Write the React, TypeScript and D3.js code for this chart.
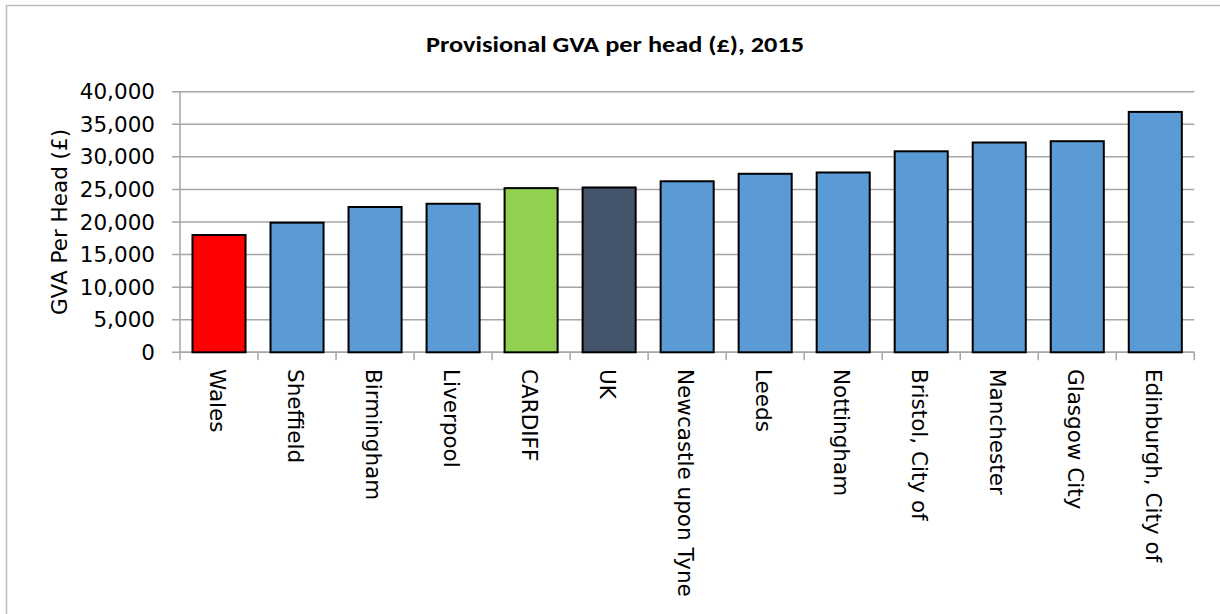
import React from "react";
import * as d3 from "d3";

const categories = [
  "Wales",
  "Sheffield",
  "Birmingham",
  "Liverpool",
  "CARDIFF",
  "UK",
  "Newcastle upon Tyne",
  "Leeds",
  "Nottingham",
  "Bristol, City of",
  "Manchester",
  "Glasgow City",
  "Edinburgh, City of",
];
const values = [18000, 19900, 22300, 22800, 25200, 25300, 26250, 27400, 27600, 30850, 32200, 32400, 36900];
const barColors = [
  "#FF0000",
  "#5B9BD5",
  "#5B9BD5",
  "#5B9BD5",
  "#92D050",
  "#44546A",
  "#5B9BD5",
  "#5B9BD5",
  "#5B9BD5",
  "#5B9BD5",
  "#5B9BD5",
  "#5B9BD5",
  "#5B9BD5",
];
const yTicks = [0, 5000, 10000, 15000, 20000, 25000, 30000, 35000, 40000];
const title = "Provisional GVA per head (£), 2015";
const yTitle = "GVA Per Head (£)";

export default function App() {
  const W = 1220;
  const H = 614;
  const left = 180;
  const right = 1194.3;
  const top = 91.7;
  const bottom = 352.3;

  const x = d3
    .scaleBand<string>()
    .domain(categories)
    .range([left, right])
    .paddingInner(0.32)
    .paddingOuter(0.16);
  const y = d3.scaleLinear().domain([0, 40000]).range([bottom, top]);
  const fmt = d3.format(",");
  const step = (right - left) / categories.length;
  const font = "'DejaVu Sans', 'Open Sans', sans-serif";
  const fs = 21.5;

  return (
    <svg
      width={W}
      height={H}
      style={{ position: "absolute", left: 0, top: 0, background: "#fff" }}
    >
      <rect x={0} y={0} width={W} height={H} fill="#fff" />
      <rect
        x={6.5}
        y={5.5}
        width={W + 20}
        height={H + 20}
        fill="none"
        stroke="#BDBDBD"
        strokeWidth={1.5}
      />
      <text
        transform="translate(615,52) scale(1.17,1)"
        textAnchor="middle"
        fontFamily="Carlito, 'Open Sans', sans-serif"
        fontWeight="bold"
        fontSize={22.5}
        fill="#000"
      >
        {title}
      </text>

      {/* gridlines */}
      {yTicks.map((t) => (
        <line
          key={"g" + t}
          x1={172}
          x2={right}
          y1={y(t)}
          y2={y(t)}
          stroke="#A6A6A6"
          strokeWidth={1.5}
        />
      ))}
      {/* y tick labels */}
      {yTicks.map((t) => (
        <text
          key={"t" + t}
          x={155}
          y={y(t)}
          textAnchor="end"
          dominantBaseline="central"
          fontFamily={font}
          fontSize={fs}
          fill="#000"
        >
          {fmt(t)}
        </text>
      ))}
      <text
        transform={`translate(59,222) rotate(-90)`}
        textAnchor="middle"
        dominantBaseline="central"
        fontFamily={font}
        fontSize={fs}
        fill="#000"
      >
        {yTitle}
      </text>

      {/* axes */}
      <line x1={left} x2={left} y1={top} y2={bottom} stroke="#A6A6A6" strokeWidth={1.5} />
      <line x1={left} x2={right} y1={bottom} y2={bottom} stroke="#A6A6A6" strokeWidth={1.5} />
      {d3.range(categories.length + 1).map((i) => (
        <line
          key={"xt" + i}
          x1={left + i * step}
          x2={left + i * step}
          y1={bottom}
          y2={bottom + 8}
          stroke="#A6A6A6"
          strokeWidth={1.5}
        />
      ))}

      {/* bars */}
      {categories.map((c, i) => (
        <rect
          key={c}
          x={x(c)}
          y={y(values[i])}
          width={x.bandwidth()}
          height={bottom - y(values[i])}
          fill={barColors[i]}
          stroke="#000"
          strokeWidth={2}
        />
      ))}

      {/* category labels */}
      {categories.map((c) => (
        <text
          key={"l" + c}
          transform={`translate(${(x(c) as number) + x.bandwidth() / 2 - 2},369) rotate(90)`}
          textAnchor="start"
          dominantBaseline="central"
          fontFamily={font}
          fontSize={fs}
          fill="#000"
        >
          {c}
        </text>
      ))}
    </svg>
  );
}
